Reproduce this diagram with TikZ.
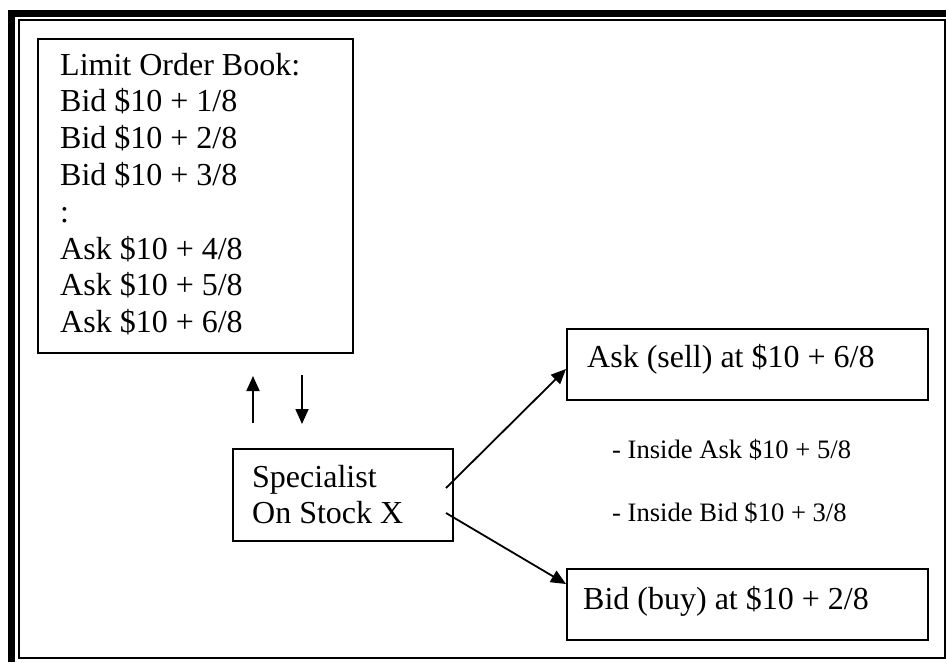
\documentclass[tikz,border=0pt]{standalone}
\usepackage{fontspec}
\setmainfont{Liberation Serif}
\usetikzlibrary{arrows.meta}
\tikzset{
  box/.style={draw, line width=1.6pt, minimum width=0pt, minimum height=0pt, inner sep=0pt, anchor=north west},
  txt/.style={anchor=base west, inner sep=0pt},
  arr/.style={line width=1.8pt, -{Triangle[length=15pt,width=13pt]}}
}
\newcommand{\bigtxt}{\fontsize{32}{36.8}\selectfont}
\newcommand{\smalltxt}{\fontsize{26.6}{30}\selectfont}
\begin{document}
\begin{tikzpicture}[x=1pt,y=-1pt]
\useasboundingbox (0,0) rectangle (946,662);
\fill[white] (0,0) rectangle (946,662);
% frame
\draw[line width=7pt, line join=miter] (11.5,662) -- (11.5,13) -- (946,13);
\draw[line width=2pt] (19,20) rectangle (944.5,658.3);
% boxes
\node[box, minimum width=315pt, minimum height=314pt] (book) at (37,38) {};
\node[box, minimum width=220pt, minimum height=92pt] (spec) at (232,448) {};
\node[box, minimum width=361pt, minimum height=71pt] (ask) at (566,328) {};
\node[box, minimum width=361pt, minimum height=71pt] (bid) at (566,568) {};
% texts
\node[txt] (booktext) at (60,75) {\parbox[t]{280pt}{\bigtxt Limit Order Book:\\Bid \$10 + 1/8\\Bid \$10 + 2/8\\Bid \$10 + 3/8\\:\\Ask \$10 + 4/8\\Ask \$10 + 5/8\\Ask \$10 + 6/8}};
\node[txt] (spectext) at (252,487) {\parbox[t]{190pt}{\bigtxt Specialist\\On Stock X}};
\node[txt] (asktext) at (587,367) {\bigtxt Ask (sell) at \$10 + 6/8};
\node[txt] (bidtext) at (583,609) {\bigtxt Bid (buy) at \$10 + 2/8};
\node[txt] (inask) at (612,458) {\smalltxt - Inside Ask \$10 + 5/8};
\node[txt] (inbid) at (612,521) {\smalltxt - Inside Bid \$10 + 3/8};
% arrow end points
\coordinate (upS) at (253,423);
\coordinate (upE) at (253,376);
\coordinate (dnS) at (302,375);
\coordinate (dnE) at (302,424);
\coordinate (a1S) at (446,488);
\coordinate (a1E) at (566,369);
\coordinate (a2S) at (446,513);
\coordinate (a2E) at (566,584);
\draw[arr] (upS) -- (upE);
\draw[arr] (dnS) -- (dnE);
\draw[arr] (a1S) -- (a1E);
\draw[arr] (a2S) -- (a2E);
\end{tikzpicture}
\end{document}
